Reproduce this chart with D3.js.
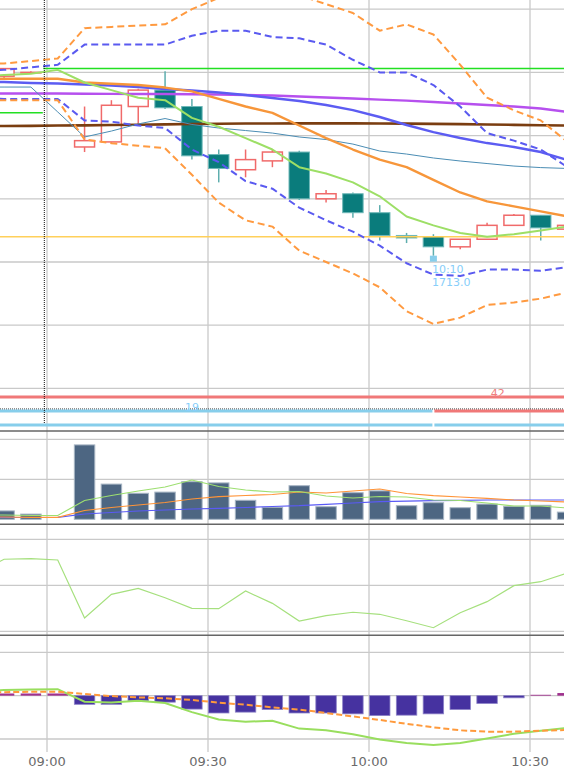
<!DOCTYPE html>
<html><head><meta charset="utf-8">
<script src="https://cdn.jsdelivr.net/npm/d3@7/dist/d3.min.js"></script>
<style>html,body{margin:0;padding:0;background:#fff;}svg{display:block;font-family:"DejaVu Sans",Verdana,sans-serif;}</style>
</head><body>
<svg id="chart" width="564" height="779"></svg>
<script>
// ---------- DATA ----------
const times = ["08:45","08:50","08:55","09:00","09:05","09:10","09:15","09:20","09:25","09:30","09:35","09:40","09:45","09:50","09:55","10:00","10:05","10:10","10:15","10:20","10:25","10:30","10:35"];
const open  = [null,1727.2,1727.5,null,1721.6,1722.0,1724.8,1726.1,1724.8,1721.0,1719.8,1720.5,1721.2,1717.5,1717.9,1716.4,1714.6,1714.5,1713.7,1714.3,1715.4,1716.2,1715.1];
const high  = [null,1727.8,1727.6,null,1724.8,1725.3,1726.2,1727.6,1725.4,1721.4,1721.4,1721.4,1721.3,1718.2,1718.0,1717.0,1714.8,1714.7,1714.3,1715.6,1716.3,1716.2,1715.5];
const low   = [null,1726.9,1727.4,null,1721.2,1721.9,1723.3,1724.6,1720.6,1718.8,1719.2,1720.0,1717.4,1717.2,1716.0,1714.2,1714.0,1713.0,1713.5,1714.3,1715.4,1714.2,1715.1];
const close = [null,1727.8,1727.5,null,1722.1,1724.9,1726.1,1724.7,1720.9,1719.9,1720.6,1721.2,1717.5,1717.9,1716.4,1714.6,1714.4,1713.7,1714.3,1715.4,1716.2,1715.2,1715.4];
const volume = [null,2100,1300,null,18600,8800,6500,6800,9400,9100,4750,3000,8400,3150,6650,7100,3400,4150,2900,3800,3250,3500,1800];

const bbUpper2 = [1728.2,1728.2,1728.4,1728.6,1731.0,1731.1,1731.2,1731.3,1732.5,1733.4,1734.0,1734.2,1733.6,1732.9,1732.2,1730.8,1731.3,1730.5,1728.1,1725.5,1724.5,1723.7,1722.0];
const bbUpper1 = [1727.6,1727.7,1727.9,1728.1,1729.7,1729.7,1729.7,1729.7,1730.4,1730.8,1730.8,1730.3,1730.2,1729.7,1728.5,1727.5,1727.5,1726.5,1724.8,1722.7,1722.1,1721.4,1720.0];
const bbLower1 = [1725.5,1725.4,1725.4,1725.4,1723.7,1723.6,1723.3,1723.1,1721.4,1720.4,1718.9,1718.3,1716.8,1715.8,1714.9,1713.8,1712.4,1711.5,1711.4,1711.9,1711.9,1711.8,1712.1];
const bbLower2 = [1725.3,1725.3,1725.3,1725.3,1722.2,1721.9,1721.7,1721.5,1719.4,1717.2,1715.8,1715.3,1713.4,1712.5,1711.6,1710.5,1708.6,1707.6,1708.1,1709.1,1709.3,1709.6,1710.1];
const maShort  = [1727.1,1727.3,1727.4,1727.7,1726.7,1726.1,1725.5,1725.3,1723.9,1723.2,1722.3,1721.4,1720.0,1719.5,1718.8,1717.7,1716.1,1715.4,1714.8,1714.5,1714.7,1715.0,1715.3];
const maMid    = [1727.0,1727.0,1727.0,1727.0,1726.7,1726.6,1726.5,1726.3,1726.0,1725.4,1724.8,1724.3,1723.3,1722.3,1721.4,1720.6,1720.0,1719.0,1718.0,1717.3,1716.9,1716.5,1716.1];
const maLong   = [1726.74,1726.74,1726.66,1726.62,1726.54,1726.46,1726.34,1726.19,1726.07,1725.91,1725.71,1725.47,1725.24,1724.92,1724.52,1723.97,1723.34,1722.78,1722.31,1721.91,1721.60,1721.20,1720.57];
const maLonger = [1725.83,1725.83,1725.83,1725.83,1725.81,1725.80,1725.79,1725.79,1725.77,1725.75,1725.71,1725.67,1725.59,1725.51,1725.43,1725.35,1725.27,1725.16,1725.04,1724.92,1724.80,1724.64,1724.37];
const maLongest= [1723.26,1723.26,1723.27,1723.30,1723.31,1723.34,1723.36,1723.39,1723.42,1723.44,1723.46,1723.46,1723.47,1723.47,1723.47,1723.46,1723.45,1723.43,1723.41,1723.38,1723.35,1723.32,1723.29];
const vwap     = [1726.34,1726.34,1726.34,1724.37,1722.39,1722.86,1723.42,1723.85,1723.38,1723.10,1722.90,1722.70,1722.39,1722.19,1721.83,1721.28,1721.04,1720.73,1720.49,1720.29,1720.09,1719.97,1719.90];

const prevCloseOld = 1724.3;   // before session break
const prevClose = 1727.8;      // after session break
const keyLevel = 1714.5;
const sessionBreakAfter = "08:55";

const volMA1 = [1075,1075,950,950,4700,5950,7075,8075,9825,8200,7325,6825,6950,5825,5325,5700,5575,4825,4700,4075,3325,3325,2825];
const volMA2 = [575,575,500,500,2200,2950,3575,4200,5075,5650,5950,6200,6825,6575,7075,7575,6450,5900,5575,5250,4825,4575,4325];
const volMA3 = [450,450,450,500,1325,1700,2075,2325,2575,2750,2950,3200,3400,3750,4075,4400,4525,4650,4750,4825,4825,4825,4825];

const rsi = [63.4,78.3,78.9,77.5,14.5,40.2,46.7,36.5,25.0,24.6,43.8,30.4,11.2,17.0,20.7,18.5,11.5,3.9,20.2,32.2,49.6,53.9,63.4];

const macdHist   = [0.05,0.05,0.05,0.05,-0.20,-0.20,-0.12,-0.15,-0.31,-0.40,-0.38,-0.32,-0.40,-0.40,-0.42,-0.46,-0.45,-0.42,-0.32,-0.18,-0.05,0.02,0.06];
const macdLine   = [0.11,0.13,0.14,0.15,-0.14,-0.16,-0.12,-0.17,-0.38,-0.55,-0.60,-0.58,-0.76,-0.80,-0.89,-1.01,-1.09,-1.14,-1.09,-0.99,-0.88,-0.81,-0.74];
const macdSignal = [0.07,0.08,0.09,0.09,0.04,-0.01,-0.04,-0.06,-0.10,-0.16,-0.21,-0.27,-0.32,-0.40,-0.48,-0.56,-0.65,-0.73,-0.80,-0.83,-0.83,-0.81,-0.79];

const priceTicks = [1702.5,1707.5,1712.5,1717.5,1722.5,1727.5,1732.5];
const volTicks = [0,10000,20000];
const rsiTicks = [0,50,100];
const macdTicks = [-1,0,1];
const timeTicks = ["09:00","09:30","10:00","10:30"];

const stripRows = ["sell","trend","buy"];
const stripSegs = [
  {row:"sell", from:"08:45", to:"10:40", color:"#f07878"},
  {row:"trend", from:"08:45", to:"10:10", color:"#87ceeb"},
  {row:"trend", from:"10:10", to:"10:40", color:"#f07878"},
  {row:"buy", from:"08:45", to:"10:10", color:"#87ceeb"},
  {row:"buy", from:"10:10", to:"10:40", color:"#87ceeb"}
];
const stripLabels = [
  {row:"sell", time:"10:22", text:"42", color:"#f08080"},
  {row:"trend", time:"09:25", text:"19", color:"#87cefa"}
];

// ---------- LAYOUT / SCALES ----------
const W = 564;
const svg = d3.select("#chart");
const toMin = s => { const [h,m] = s.split(":").map(Number); return h*60+m; };
const x = d3.scaleLinear().domain([toMin("09:00"), toMin("10:30")]).range([47, 530]);
const barW = x(toMin("09:04")) - x(toMin("09:00"));
const gap = x(toMin("09:05")) - x(toMin("09:00")) - barW;
const cx = t => x(toMin(t)) + barW/2;

const panels = {
  main: [0, 388.4], strip: [388.4, 431], vol: [431, 524.3], rsi: [524.3, 635.3], macd: [635.3, 752]
};
const yP = d3.scaleLinear().domain([1702.5, 1732.5]).range([388.4, 9.2]);
const yV = d3.scaleLinear().domain([0, 20000]).range([519.3, 439.3]);
const yR = d3.scaleLinear().domain([0, 100]).range([631.3, 539.3]);
const yM = d3.scaleLinear().domain([-1, 1]).range([739, 652.3]);
const yS = d3.scalePoint().domain(stripRows).range([397, 425]);

const defs = svg.append("defs");
Object.entries(panels).forEach(([k,[a,b]]) => {
  defs.append("clipPath").attr("id","clip-"+k).append("rect").attr("x",0).attr("y",a).attr("width",W).attr("height",b-a);
});
const grid = "#c9c9c9";

// horizontal gridlines
const hg = svg.append("g").attr("stroke", grid).attr("stroke-width", 1.3);
[[priceTicks,yP],[volTicks.slice(1),yV],[rsiTicks,yR],[macdTicks,yM]].forEach(([ticks,sc]) => {
  hg.selectAll(null).data(ticks).enter().append("line")
    .attr("x1",0).attr("x2",W).attr("y1",d=>sc(d)).attr("y2",d=>sc(d));
});
// vertical gridlines
svg.append("g").attr("stroke", grid).attr("stroke-width", 1.3)
  .selectAll("line").data(timeTicks).enter().append("line")
  .attr("x1",d=>x(toMin(d))).attr("x2",d=>x(toMin(d))).attr("y1",0).attr("y2",panels.macd[1]);
// panel separators
svg.append("g").attr("stroke","#666").attr("stroke-width",1.5)
  .selectAll("line").data([panels.vol[0], panels.vol[1], panels.rsi[1]]).enter().append("line")
  .attr("x1",0).attr("x2",W).attr("y1",d=>d).attr("y2",d=>d);

// ---------- MAIN PANEL ----------
const gMain = svg.append("g").attr("clip-path","url(#clip-main)");
const idx = d3.range(times.length);
const candles = idx.filter(i => open[i] != null);

// candles
candles.forEach(i => {
  const t = times[i], o = open[i], c = close[i], h = high[i], l = low[i];
  const xl = x(toMin(t)), xc = cx(t);
  const up = c >= o;
  if (up) {
    const col = "#f06a6a";
    gMain.append("line").attr("x1",xc).attr("x2",xc).attr("y1",yP(h)).attr("y2",yP(Math.max(o,c))).attr("stroke",col).attr("stroke-width",1.5);
    gMain.append("line").attr("x1",xc).attr("x2",xc).attr("y1",yP(Math.min(o,c))).attr("y2",yP(l)).attr("stroke",col).attr("stroke-width",1.5);
    gMain.append("rect").attr("x",xl+0.75).attr("width",barW-1.5)
      .attr("y",yP(Math.max(o,c))).attr("height",Math.max(0.5,yP(Math.min(o,c))-yP(Math.max(o,c))))
      .attr("fill","#fff").attr("stroke",col).attr("stroke-width",1.5);
  } else {
    gMain.append("line").attr("x1",xc).attr("x2",xc).attr("y1",yP(h)).attr("y2",yP(l)).attr("stroke","#5eaeae").attr("stroke-width",1.5);
    gMain.append("rect").attr("x",xl+0.5).attr("width",barW-1)
      .attr("y",yP(o)).attr("height",Math.max(1,yP(c)-yP(o)))
      .attr("fill","#0a7c7c").attr("stroke","#6fb8b8").attr("stroke-width",1);
  }
});

// reference levels
const sepX = x(toMin(sessionBreakAfter)) + barW + gap/2;
gMain.append("line").attr("x1",0).attr("x2",sepX-1.5).attr("y1",yP(prevCloseOld)).attr("y2",yP(prevCloseOld)).attr("stroke","#22e022").attr("stroke-width",1.5);
gMain.append("line").attr("x1",sepX-1).attr("x2",W).attr("y1",yP(prevClose)).attr("y2",yP(prevClose)).attr("stroke","#22e022").attr("stroke-width",1.5);
gMain.append("line").attr("x1",0).attr("x2",W).attr("y1",yP(keyLevel)).attr("y2",yP(keyLevel)).attr("stroke","#ffd05a").attr("stroke-width",1.5);

const lineP = arr => d3.line().x((d,i)=>cx(times[i])).y(d=>yP(d))(arr);
const series = [
  {d:maLongest, c:"#7a3d10", w:2.6},
  {d:maLonger,  c:"#b650ee", w:2.4},
  {d:vwap,      c:"#4b8db4", w:1},
  {d:maLong,    c:"#5c5cf2", w:2.4},
  {d:maMid,     c:"#f7963a", w:2.4},
  {d:maShort,   c:"#9ddf66", w:2},
  {d:bbUpper2,  c:"#ff9a40", w:2, dash:"7,4"},
  {d:bbUpper1,  c:"#5a5af0", w:2, dash:"7,4"},
  {d:bbLower1,  c:"#5a5af0", w:2, dash:"7,4"},
  {d:bbLower2,  c:"#ff9a40", w:2, dash:"7,4"}
];
series.forEach(s => {
  gMain.append("path").attr("d", lineP(s.d)).attr("fill","none").attr("stroke",s.c)
    .attr("stroke-width",s.w).attr("stroke-dasharray",s.dash||null).attr("stroke-linejoin","round");
});

// low annotation
const li = d3.minIndex(low.map(v => v == null ? Infinity : v));
const lx = cx(times[li]), ly = yP(low[li]);
gMain.append("rect").attr("x",lx-3.5).attr("y",ly).attr("width",7).attr("height",6).attr("fill","#87ceeb");
gMain.append("text").attr("x",lx-1.5).attr("y",ly+17).attr("font-size",11).attr("fill","#87cefa").text(times[li]);
gMain.append("text").attr("x",lx-1.5).attr("y",ly+30.5).attr("font-size",11).attr("fill","#87cefa").text(low[li].toFixed(1));

// ---------- STRIP ----------
const gStrip = svg.append("g").attr("clip-path","url(#clip-strip)");
gStrip.append("line").attr("x1",0).attr("x2",W).attr("y1",yS("trend")-2).attr("y2",yS("trend")-2)
  .attr("stroke","#222").attr("stroke-width",1).attr("stroke-dasharray","1,1");
stripSegs.forEach(s => {
  const a = s.from === "08:45" ? 0 : cx(s.from) + 1;
  const b = s.to === "10:10" ? cx(s.to) - 1 : W;
  gStrip.append("line").attr("x1",a).attr("x2",b).attr("y1",yS(s.row)).attr("y2",yS(s.row))
    .attr("stroke",s.color).attr("stroke-width",3);
});
stripLabels.forEach(l => {
  gStrip.append("text").attr("x",cx(l.time)).attr("y",yS(l.row)-0.5).attr("text-anchor","middle")
    .attr("font-size",11).attr("fill",l.color).text(l.text);
});

// ---------- VOLUME ----------
const gVol = svg.append("g").attr("clip-path","url(#clip-vol)");
idx.filter(i => volume[i] != null).forEach(i => {
  gVol.append("rect").attr("x",x(toMin(times[i]))+0.5).attr("width",barW-1)
    .attr("y",yV(volume[i])).attr("height",yV(0)-yV(volume[i]))
    .attr("fill","#4d6682").attr("stroke","#a7b5c4").attr("stroke-width",1);
});
const lineV = arr => d3.line().x((d,i)=>cx(times[i])).y(d=>yV(d))(arr);
[[volMA3,"#5a5af5"],[volMA2,"#ff9438"],[volMA1,"#9ddf70"]].forEach(([d,c]) => {
  gVol.append("path").attr("d",lineV(d)).attr("fill","none").attr("stroke",c).attr("stroke-width",1.2);
});

// ---------- RSI ----------
const gRsi = svg.append("g").attr("clip-path","url(#clip-rsi)");
gRsi.append("path").attr("d", d3.line().x((d,i)=>cx(times[i])).y(d=>yR(d))(rsi))
  .attr("fill","none").attr("stroke","#a6e07e").attr("stroke-width",1.2);

// ---------- MACD ----------
const gMacd = svg.append("g").attr("clip-path","url(#clip-macd)");
idx.forEach(i => {
  const v = macdHist[i];
  const pos = v >= 0;
  gMacd.append("rect").attr("x",x(toMin(times[i]))+0.5).attr("width",barW-1)
    .attr("y",yM(Math.max(0,v))).attr("height",Math.abs(yM(v)-yM(0)))
    .attr("fill", pos ? "#a0308e" : "#4632a0").attr("stroke", pos ? "none" : "#8c82c8").attr("stroke-width",0.8);
});
const lineM = arr => d3.line().x((d,i)=>cx(times[i])).y(d=>yM(d))(arr);
gMacd.append("path").attr("d",lineM(macdLine)).attr("fill","none").attr("stroke","#99de5e").attr("stroke-width",2);
gMacd.append("path").attr("d",lineM(macdSignal)).attr("fill","none").attr("stroke","#ff9a3c").attr("stroke-width",2).attr("stroke-dasharray","6,3");

// ---------- SESSION SEPARATOR ----------
svg.append("line").attr("x1",sepX).attr("x2",sepX).attr("y1",0).attr("y2",424)
  .attr("stroke","#111").attr("stroke-width",1).attr("stroke-dasharray","1,1");

// ---------- TIME AXIS ----------
svg.append("g").selectAll("text").data(timeTicks).enter().append("text")
  .attr("x",d=>x(toMin(d))).attr("y",766).attr("text-anchor","middle")
  .attr("font-size",13).attr("fill","#6b6b6b").text(d=>d);
</script>
</body></html>
